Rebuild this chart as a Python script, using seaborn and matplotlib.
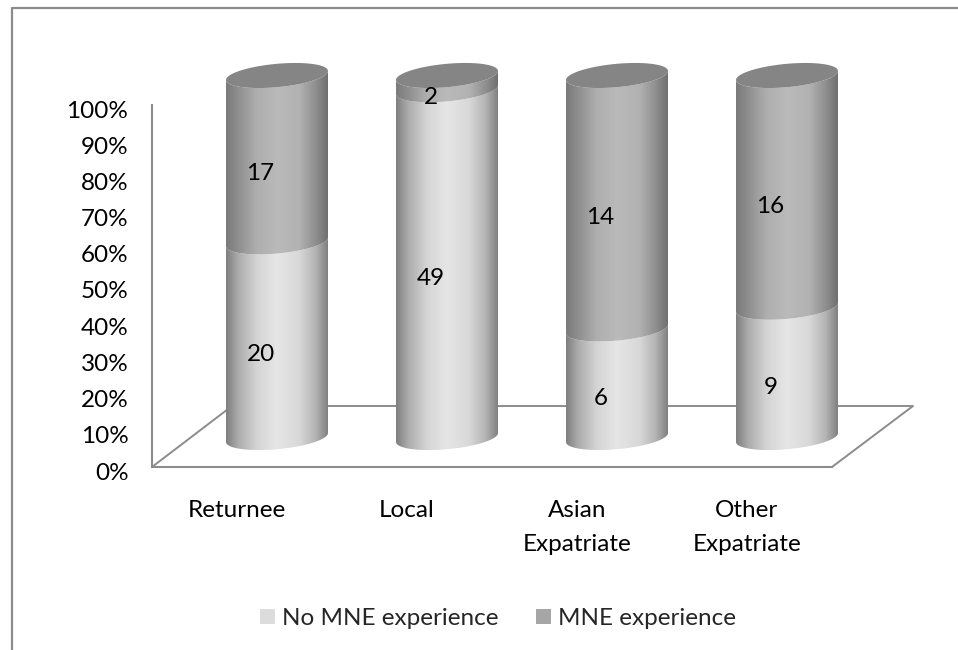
import numpy as np
import pandas as pd
import matplotlib
matplotlib.use("Agg")
import matplotlib.pyplot as plt
from matplotlib.path import Path
from matplotlib.patches import PathPatch, Patch
from matplotlib.colors import LinearSegmentedColormap
from matplotlib.ticker import PercentFormatter
from matplotlib.transforms import ScaledTranslation
import seaborn as sns

categories = ["Returnee", "Local", "Asian\nExpatriate", "Other\nExpatriate"]
no_mne = [20, 49, 6, 9]
mne = [17, 2, 14, 16]
series_names = ["No MNE experience", "MNE experience"]

W, H = 958, 650
sns.set_theme(style="white")
plt.rcParams["font.family"] = ["Lato", "DejaVu Sans"]
FS = 17.5
GREY = "#8c8c8c"

def rect(l, t, r, b):
    return [l / W, 1 - b / H, (r - l) / W, (b - t) / H]

fig = plt.figure(figsize=(W / 100, H / 100), dpi=100, facecolor="white")

bg = fig.add_axes([0, 0, 1, 1], zorder=0)
bg.set_xlim(0, W); bg.set_ylim(H, 0); bg.axis("off")
bg.plot([12.5, 12.5, W], [H, 8, 8], color=GREY, lw=1.6)

# front axes: ticks, category labels, floor
ax = fig.add_axes(rect(152, 105, 832, 467), zorder=1)
ax.patch.set_alpha(0)
ax.set_xlim(-0.5, 3.5); ax.set_ylim(0, 100)
ax.set_yticks(np.arange(0, 101, 10))
ax.yaxis.set_major_formatter(PercentFormatter(100, decimals=0))
ax.set_xticks(range(4)); ax.set_xticklabels(categories, linespacing=1.75)
ax.tick_params(axis="y", length=0, pad=17, labelsize=FS, labelcolor="black")
ax.tick_params(axis="x", length=0, pad=24, labelsize=FS, labelcolor="black")
shift = ScaledTranslation(0, -4 / 100, fig.dpi_scale_trans)
for lab in ax.get_yticklabels():
    lab.set_transform(lab.get_transform() + shift)
for s in ("top", "right"):
    ax.spines[s].set_visible(False)
for s in ("left", "bottom"):
    ax.spines[s].set_color(GREY); ax.spines[s].set_linewidth(1.5)
bg.plot([152, 232, 913, 832], [467, 406, 406, 467], color=GREY, lw=1.4)

# cylinders: same scale, shifted half the floor depth; margin of 10 % for the caps
ax2 = fig.add_axes(rect(192, 75.5 - 36.2, 872, 437.5 + 36.2), zorder=2)
ax2.patch.set_alpha(0)
df = pd.DataFrame({"cat": categories, "a": no_mne, "b": mne})
tot = df["a"] + df["b"]
df["pa"] = df["a"] / tot * 100
df["pb"] = df["b"] / tot * 100
sns.barplot(data=df, x="cat", y="pa", ax=ax2, color="#dcdcdc", width=0.6, saturation=1, zorder=2)
sns.barplot(data=df, x="cat", y="pb", bottom=df["pa"], ax=ax2, color="#a6a6a6", width=0.6, saturation=1, zorder=2)
ax2.axis("off")

light = LinearSegmentedColormap.from_list("l", [(0, "#7f7f7f"), (0.12, "#acacac"), (0.3, "#d4d4d4"), (0.5, "#e6e6e6"), (0.72, "#d8d8d8"), (0.88, "#b4b4b4"), (1, "#808080")])
dark = LinearSegmentedColormap.from_list("d", [(0, "#7a7a7a"), (0.12, "#8f8f8f"), (0.3, "#aeaeae"), (0.5, "#bababa"), (0.72, "#b2b2b2"), (0.88, "#8f8f8f"), (1, "#707070")])

hy = 11.7 / 3.62   # ellipse half height in % units
sy = 4.5 / 3.62    # tilt in % units
grad = np.linspace(0, 1, 256)[None, :]
t = np.linspace(0, np.pi, 60)

def seg_path(x0, w, y0, y1):
    c = x0 + w / 2
    ux = -np.cos(t)
    xs = c + ux * w / 2
    low = y0 + ux * sy - hy * np.sin(t)
    up = y1 + ux * sy - hy * np.sin(t)
    v = np.r_[np.c_[xs, low], np.c_[xs[::-1], up[::-1]], [[xs[0], low[0]]]]
    return Path(v)

n = len(categories)
bars = list(ax2.patches)
for i, p in enumerate(bars):
    x0, w, y0, h = p.get_x(), p.get_width(), p.get_y(), p.get_height()
    path = seg_path(x0, w, y0, y0 + h)
    p.set_visible(False)
    cm = light if i < n else dark
    im = ax2.imshow(grad, extent=(x0, x0 + w, -10, 110), aspect="auto", cmap=cm, vmin=0, vmax=1, zorder=3, origin="lower")
    im.set_clip_path(PathPatch(path, transform=ax2.transData))
    if i >= n:
        c = x0 + w / 2
        th = np.linspace(0, 2 * np.pi, 120)
        ux = -np.cos(th)
        ax2.fill(c + ux * w / 2, y0 + h + ux * sy + hy * np.sin(th), color="#858585", lw=0, zorder=4)
ax2.set_xlim(-0.5, 3.5); ax2.set_ylim(-10, 110)

for i in range(n):
    for val, base, pct in ((no_mne[i], 0, df["pa"][i]), (mne[i], df["pa"][i], df["pb"][i])):
        ax2.annotate(str(val), (i, base + pct / 2), xytext=(-16.5 * 0.72, -15 * 0.72),
                     textcoords="offset points", ha="center", va="center",
                     fontsize=FS, color="black", zorder=6)

leg = ax.legend(handles=[Patch(color="#dcdcdc", label=series_names[0]), Patch(color="#a6a6a6", label=series_names[1])],
                loc="center", bbox_to_anchor=(498 / W, 1 - 618.5 / H), bbox_transform=fig.transFigure,
                ncol=2, frameon=False, fontsize=FS, handlelength=0.62, handleheight=0.62,
                handletextpad=0.3, columnspacing=1.55, borderpad=0)
for h in leg.legend_handles:
    h.set_linewidth(0)

fig.savefig("out.png", dpi=100)
